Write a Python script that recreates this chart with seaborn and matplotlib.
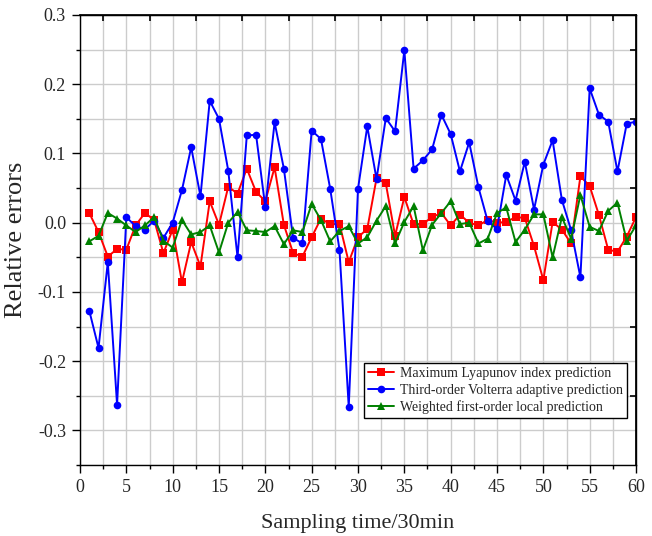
import numpy as np
import pandas as pd
import matplotlib
matplotlib.use("Agg")
import matplotlib.pyplot as plt
import seaborn as sns
from matplotlib.ticker import MultipleLocator, FuncFormatter

# Sampling instants (one every 30 min)
time = list(range(1, 61))

# Relative errors of the three prediction methods
lyapunov = [0.014, -0.0135, -0.049, -0.038, -0.039, -0.004, 0.014, 0.004, -0.044, -0.010,
            -0.086, -0.028, -0.063, 0.031, -0.003, 0.052, 0.042, 0.078, 0.0445, 0.031,
            0.080, -0.003, -0.044, -0.049, -0.021, 0.006, -0.0024, -0.0015, -0.057, -0.021,
            -0.009, 0.064, 0.057, -0.019, 0.037, -0.0024, -0.0015, 0.008, 0.014, -0.004,
            0.0116, 0.0, -0.004, 0.004, 0.0, 0.001, 0.008, 0.007, -0.034, -0.083,
            0.001, -0.010, -0.030, 0.067, 0.053, 0.011, -0.039, -0.042, -0.020, 0.008]

volterra = [-0.127, -0.181, -0.057, -0.263, 0.008, -0.005, -0.010, 0.003, -0.022, 0.000,
            0.047, 0.109, 0.038, 0.176, 0.150, 0.075, -0.050, 0.126, 0.127, 0.022,
            0.145, 0.078, -0.022, -0.030, 0.133, 0.121, 0.049, -0.039, -0.266, 0.049,
            0.139, 0.063, 0.151, 0.132, 0.249, 0.078, 0.090, 0.106, 0.156, 0.128,
            0.074, 0.116, 0.051, 0.002, -0.009, 0.069, 0.032, 0.088, 0.019, 0.084,
            0.119, 0.033, -0.011, -0.079, 0.194, 0.156, 0.146, 0.074, 0.143, 0.146]

weighted = [-0.027, -0.019, 0.014, 0.006, -0.004, -0.0135, -0.004, 0.008, -0.026, -0.036,
            0.004, -0.017, -0.0135, -0.004, -0.043, 0.0, 0.0155, -0.011, -0.012, -0.0135,
            -0.005, -0.031, -0.011, -0.0135, 0.027, 0.004, -0.027, -0.012, -0.005, -0.030,
            -0.021, 0.003, 0.024, -0.030, 0.001, 0.024, -0.040, -0.003, 0.014, 0.031,
            -0.002, 0.0, -0.030, -0.023, 0.014, 0.022, -0.028, -0.010, 0.012, 0.012,
            -0.050, 0.008, -0.023, 0.040, -0.006, -0.012, 0.017, 0.029, -0.026, -0.004]

methods = ["Maximum Lyapunov index prediction",
           "Third-order Volterra adaptive prediction",
           "Weighted first-order local prediction"]
colors = ["#ff0000", "#0000ff", "#008000"]
markers = ["s", "o", "^"]

df = pd.concat([
    pd.DataFrame({"time": time, "error": vals, "method": name})
    for name, vals in zip(methods, [lyapunov, volterra, weighted])
], ignore_index=True)

sns.set_theme(style="white")
plt.rcParams["font.family"] = ["Liberation Serif", "DejaVu Serif"]
plt.rcParams["axes.unicode_minus"] = False

fig = plt.figure(figsize=(6.52, 5.36), dpi=100)
ax = fig.add_axes([80 / 652, 1 - 465 / 536, 556 / 652, 450 / 536])

sns.lineplot(data=df, x="time", y="error", hue="method", style="method",
             hue_order=methods, style_order=methods, palette=colors,
             markers=markers, dashes=False, linewidth=1.4, markersize=5.5,
             markeredgewidth=0, ax=ax)

ax.set_xlim(0, 60)
ax.set_ylim(-0.35, 0.3)
ax.xaxis.set_major_locator(MultipleLocator(5))
ax.xaxis.set_minor_locator(MultipleLocator(2.5))
ax.yaxis.set_major_locator(MultipleLocator(0.1))
ax.yaxis.set_minor_locator(MultipleLocator(0.05))
ax.yaxis.set_major_formatter(FuncFormatter(lambda v, p: f"{v:.1f}".replace("-0.0", "0.0")))
ax.xaxis.set_major_formatter(FuncFormatter(lambda v, p: f"{v:.0f}"))

ax.grid(which="both", color="#cccccc", linewidth=1.0)
ax.set_axisbelow(True)

for s in ax.spines.values():
    s.set_color("black")
    s.set_linewidth(1.0)

ax.tick_params(which="major", direction="out", length=6, width=1.0, color="black",
               labelsize=13, pad=4, bottom=True, left=True)
ax.tick_params(which="minor", direction="out", length=3, width=1.0, color="black",
               bottom=True, left=True)

# inward ticks on the opposite spines, drawn above the grid
top = ax.secondary_xaxis("top")
top.set_xticks(np.arange(2.5, 60, 5), labels=[])
top.tick_params(direction="in", length=4, width=1.2, colors="black", zorder=10)
top.spines["top"].set_color("black")
top.set_zorder(10)
right = ax.secondary_yaxis("right")
right.set_yticks(np.arange(-0.25, 0.3, 0.1), labels=[])
right.tick_params(direction="in", length=4, width=1.2, colors="black", zorder=10)
right.spines["right"].set_color("black")
right.set_zorder(10)

ax.set_xlabel("Sampling time/30min", fontsize=16, labelpad=13)
ax.set_ylabel("Relative errors", fontsize=19, labelpad=8)

handles, labels = ax.get_legend_handles_labels()
leg = ax.legend(handles, labels, loc="lower right", bbox_to_anchor=(0.984, 0.104),
                borderaxespad=0, fontsize=10, frameon=True, fancybox=False,
                edgecolor="black", framealpha=1, handlelength=1.9,
                handletextpad=0.4, labelspacing=0.25, borderpad=0.3)
leg.get_frame().set_linewidth(1.0)

fig.savefig("out.png", dpi=100)
